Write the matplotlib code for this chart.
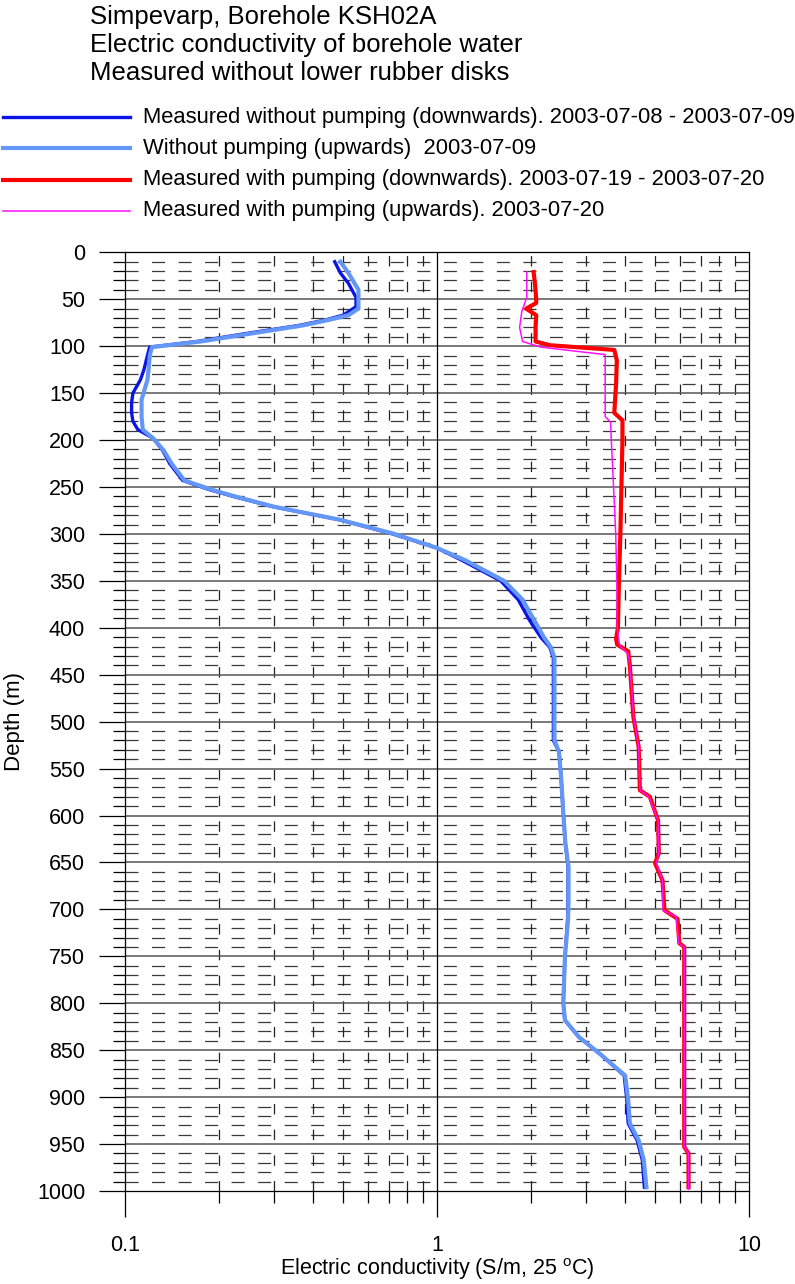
import matplotlib
matplotlib.use("Agg")
import matplotlib.pyplot as plt
from matplotlib.lines import Line2D
from matplotlib.ticker import FixedLocator, NullFormatter
import numpy as np

plt.rcParams['font.family'] = ['Liberation Sans', 'DejaVu Sans']
plt.rcParams['lines.scale_dashes'] = False

# ---------------- data ----------------
title_lines = ["Simpevarp, Borehole KSH02A",
               "Electric conductivity of borehole water",
               "Measured without lower rubber disks"]

legend_labels = ["Measured without pumping (downwards). 2003-07-08 - 2003-07-09",
                 "Without pumping (upwards)  2003-07-09",
                 "Measured with pumping (downwards). 2003-07-19 - 2003-07-20",
                 "Measured with pumping (upwards). 2003-07-20"]

nopump_down_depth = [10, 22, 33, 48, 58, 67, 72, 78, 86, 95, 101, 110, 125, 136, 150, 160,
                     171, 180, 189, 198, 211, 225, 243, 253, 260, 271, 285, 300, 315, 328,
                     350, 370, 392, 410, 421, 432, 480, 520, 532, 560, 598, 630, 655, 690,
                     712, 751, 800, 818, 836, 854, 877, 903, 928, 946, 967, 996]
nopump_down_ec = [0.47, 0.49, 0.52, 0.55, 0.55, 0.50, 0.44, 0.36, 0.25, 0.17, 0.12, 0.118,
                  0.115, 0.112, 0.106, 0.105, 0.105, 0.106, 0.11, 0.123, 0.132, 0.139, 0.153,
                  0.187, 0.222, 0.298, 0.488, 0.72, 1.0, 1.2, 1.6, 1.82, 1.98, 2.15, 2.3, 2.36,
                  2.36, 2.36, 2.46, 2.5, 2.54, 2.58, 2.63, 2.63, 2.62, 2.57, 2.54, 2.57, 2.85,
                  3.33, 3.98, 4.06, 4.1, 4.38, 4.55, 4.62]

nopump_up_depth = [10, 22, 40, 60, 67, 72, 78, 86, 95, 101, 110, 125, 136, 157, 175, 189, 198,
                   211, 225, 243, 253, 260, 271, 285, 300, 315, 328, 350, 370, 392, 410, 421,
                   432, 480, 520, 532, 560, 598, 630, 655, 690, 712, 751, 800, 818, 836, 854,
                   877, 903, 928, 946, 967, 996]
nopump_up_ec = [0.49, 0.52, 0.56, 0.56, 0.52, 0.45, 0.37, 0.26, 0.175, 0.122, 0.12, 0.119,
                0.118, 0.113, 0.113, 0.114, 0.123, 0.133, 0.141, 0.155, 0.19, 0.225, 0.30,
                0.49, 0.73, 1.0, 1.23, 1.64, 1.88, 2.05, 2.2, 2.32, 2.38, 2.38, 2.38, 2.46,
                2.5, 2.54, 2.58, 2.64, 2.64, 2.63, 2.57, 2.54, 2.57, 2.85, 3.33, 4.01, 4.1,
                4.15, 4.43, 4.6, 4.69]

pump_down_depth = [21, 33, 50, 54, 60, 67, 80, 95, 99, 104, 115, 140, 171, 179, 200, 250,
                   300, 350, 400, 412, 418, 425, 440, 495, 527, 573, 580, 605, 640, 651, 669,
                   701, 710, 736, 740, 953, 960, 996]
pump_down_ec = [2.04, 2.06, 2.08, 2.08, 1.93, 2.08, 2.07, 2.07, 2.3, 3.7, 3.77, 3.75, 3.7,
                3.93, 3.93, 3.9, 3.87, 3.83, 3.8, 3.75, 3.78, 4.1, 4.15, 4.26, 4.43, 4.47,
                4.81, 5.11, 5.14, 5.0, 5.28, 5.36, 5.9, 5.98, 6.2, 6.2, 6.4, 6.4]

pump_up_depth = [21, 48, 63, 80, 95, 101, 109, 175, 181, 200, 250, 300, 350, 400, 419, 428,
                 440, 495, 527, 573, 580, 605, 640, 651, 669, 701, 708, 736, 740, 953, 960, 998]
pump_up_ec = [1.94, 1.94, 1.87, 1.84, 1.88, 2.15, 3.46, 3.46, 3.6, 3.62, 3.68, 3.74, 3.77,
              3.78, 3.85, 4.1, 4.15, 4.27, 4.43, 4.47, 4.78, 5.11, 5.14, 5.05, 5.28, 5.3,
              5.85, 5.95, 6.2, 6.2, 6.4, 6.4]

y_major = list(range(0, 1001, 50))
y_minor = [d for d in range(0, 1001, 10) if d % 50 != 0]
x_major = [0.1, 1, 10]
x_minor = [0.2, 0.3, 0.4, 0.5, 0.6, 0.7, 0.8, 0.9, 2, 3, 4, 5, 6, 7, 8, 9]
x_ticklabels = ["0.1", "1", "10"]

# ---------------- figure ----------------
W, H = 795, 1284
fig = plt.figure(figsize=(W / 100, H / 100), dpi=100)
L, R, T, B = 125, 749, 252.3, 1191
ax = fig.add_axes([L / W, 1 - B / H, (R - L) / W, (B - T) / H])

ax.set_xscale('log')
ax.set_xlim(0.1, 10)
ax.set_ylim(1000, 0)

# grid lines
for d in y_minor:
    ax.axhline(d, color='#3a3a3a', lw=0.9, linestyle=(0, (9.4, 9.7)), zorder=1)
for d in y_major[1:-1]:
    ax.axhline(d, color='#555555', lw=1.1, zorder=1.5)
for v in x_minor:
    ax.axvline(v, color='#222222', lw=0.9, linestyle=(0, (7.5, 11.0)), zorder=1)
ax.axvline(1, color='black', lw=0.9, zorder=1.5)

colors = ['#0a14e6', '#6496f5', '#ff0000', '#ff10ff']
widths = [2.4, 3.0, 3.0, 1.1]
ax.plot(nopump_down_ec, nopump_down_depth, color=colors[0], lw=widths[0], zorder=3,
        solid_joinstyle='round')
ax.plot(nopump_up_ec, nopump_up_depth, color=colors[1], lw=widths[1], zorder=3.1,
        solid_joinstyle='round')
ax.plot(pump_down_ec, pump_down_depth, color=colors[2], lw=widths[2], zorder=3.2,
        solid_joinstyle='round')
ax.plot(pump_up_ec, pump_up_depth, color=colors[3], lw=widths[3], zorder=3.3,
        solid_joinstyle='round')

# ticks
ax.yaxis.set_major_locator(FixedLocator(y_major))
ax.yaxis.set_minor_locator(FixedLocator(y_minor))
ax.xaxis.set_major_locator(FixedLocator(x_major))
ax.xaxis.set_minor_locator(FixedLocator(x_minor))
ax.set_xticklabels(x_ticklabels)
ax.xaxis.set_minor_formatter(NullFormatter())
ax.tick_params(axis='both', which='major', direction='out', length=18.7, width=0.9,
               color='black', labelsize=15.5)
ax.tick_params(axis='both', which='minor', direction='out', length=8.6, width=0.9,
               color='black')
ax.tick_params(axis='y', which='major', pad=10)
ax.tick_params(axis='x', which='major', pad=13)
for s in ax.spines.values():
    s.set_linewidth(0.9)
    s.set_color('black')

ax.set_xlabel("Electric conductivity (S/m, 25 $^{\\mathregular{o}}$C)", fontsize=15.5, labelpad=0)
ax.set_ylabel("Depth (m)", fontsize=16)
ax.yaxis.set_label_coords(-(L - 25) / (R - L), 0.5)

# title
for i, t in enumerate(title_lines):
    fig.text(90 / W, 1 - (17 + 28 * i) / H, t, fontsize=18.5, va='center', ha='left')

# legend
for i, (lab, c, lw) in enumerate(zip(legend_labels, colors, widths)):
    yy = 1 - (117 + 31.3 * i) / H
    fig.add_artist(Line2D([3 / W, 130 / W], [yy, yy], color=c, lw=lw,
                          transform=fig.transFigure))
    fig.text(143 / W, yy, lab, fontsize=15.8, va='center', ha='left')

fig.savefig("out.png", dpi=100)
